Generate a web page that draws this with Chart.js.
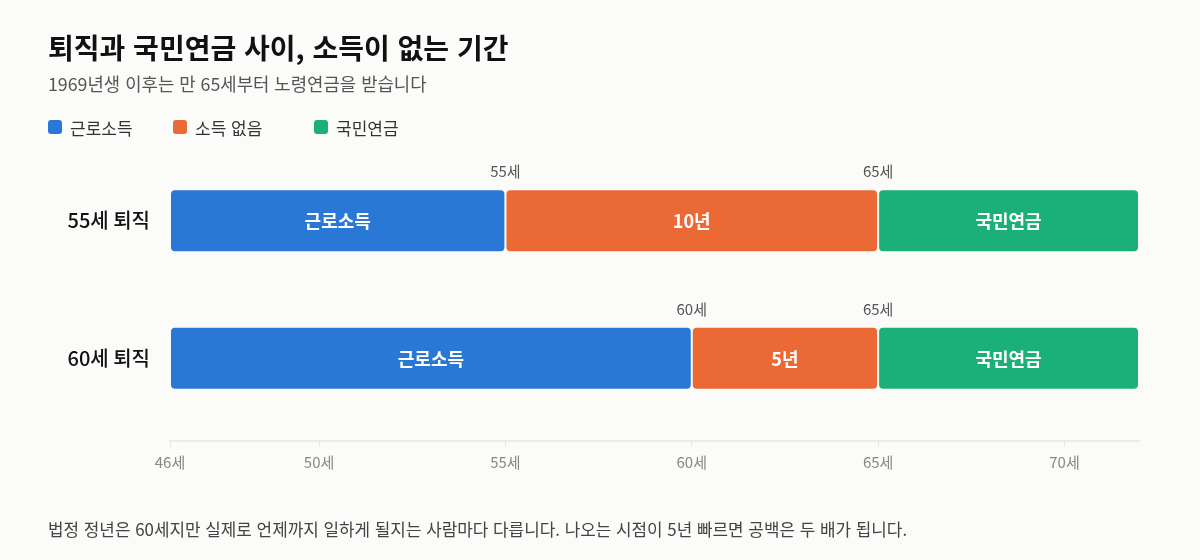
<!DOCTYPE html>
<html lang="ko">
<head>
<meta charset="utf-8">
<script src="https://cdn.jsdelivr.net/npm/chart.js@4.4.1/dist/chart.umd.min.js"></script>
<style>
  html, body { margin:0; padding:0; background:#fbfbf9; }
  body { width:1200px; height:560px; position:relative; overflow:hidden; font-family:"Noto Sans CJK KR","Noto Sans",sans-serif; }
  #title { position:absolute; left:48px; top:29px; font-size:28px; font-weight:700; color:#111; line-height:36px; white-space:nowrap; }
  #subtitle { position:absolute; left:48px; top:71px; font-size:17.8px; color:#555; line-height:24px; white-space:nowrap; }
  #legend { position:absolute; left:48px; top:115px; height:24px; }
  .li { position:absolute; top:0; display:flex; align-items:center; height:24px; font-size:17px; color:#333; white-space:nowrap; }
  .sw { width:14px; height:14px; border-radius:3px; margin-right:8px; }
  #note { position:absolute; left:48px; top:517px; font-size:16.9px; color:#444; line-height:24px; white-space:nowrap; }
  #wrap { position:absolute; left:0; top:0; width:1200px; height:560px; }
</style>
</head>
<body>
<div id="wrap"><canvas id="c"></canvas></div>
<div id="title">퇴직과 국민연금 사이, 소득이 없는 기간</div>
<div id="subtitle">1969년생 이후는 만 65세부터 노령연금을 받습니다</div>
<div id="legend"></div>
<div id="note">법정 정년은 60세지만 실제로 언제까지 일하게 될지는 사람마다 다릅니다. 나오는 시점이 5년 빠르면 공백은 두 배가 됩니다.</div>
<script>
// ---- data ----
const rows = ['55세 퇴직', '60세 퇴직'];
const seriesNames = ['근로소득', '소득 없음', '국민연금'];
const workSpan = [[46, 55], [46, 60]];
const gapSpan = [[55, 65], [60, 65]];
const pensionSpan = [[65, 72], [65, 72]];
const workLabels = ['근로소득', '근로소득'];
const gapLabels = ['10년', '5년'];
const pensionLabels = ['국민연금', '국민연금'];
const xTicks = [46, 50, 55, 60, 65, 70];
const axisMin = 46, axisMax = 72;
const colors = ['#2a78d6', '#eb6935', '#1bb07a'];
const BG = '#fbfbf9';
const FONT = '"Noto Sans CJK KR","Noto Sans",sans-serif';

// legend (HTML)
const legendLeft = [0, 125, 266];
const lg = document.getElementById('legend');
seriesNames.forEach((n, i) => {
  const d = document.createElement('div');
  d.className = 'li';
  d.style.left = legendLeft[i] + 'px';
  d.innerHTML = '<span class="sw" style="background:' + colors[i] + '"></span>' + n;
  lg.appendChild(d);
});

function toPoints(spans) {
  return spans.map((s, i) => ({ x: s, y: i }));
}

const inBarLabels = [workLabels, gapLabels, pensionLabels];

const labelPlugin = {
  id: 'labels',
  afterDatasetsDraw(chart) {
    const ctx = chart.ctx;
    const xs = chart.scales.x;
    ctx.save();
    ctx.textAlign = 'center';
    ctx.textBaseline = 'middle';
    ctx.font = '700 18px ' + FONT;
    ctx.fillStyle = '#ffffff';
    chart.data.datasets.forEach((ds, di) => {
      const meta = chart.getDatasetMeta(di);
      meta.data.forEach((bar, i) => {
        const s = ds.data[i].x;
        const cx = (xs.getPixelForValue(s[0]) + xs.getPixelForValue(s[1])) / 2;
        ctx.fillText(inBarLabels[di][i], cx, bar.y + 1);
      });
    });
    ctx.font = '400 15px ' + FONT;
    ctx.fillStyle = '#555';
    const gapMeta = chart.getDatasetMeta(1);
    gapMeta.data.forEach((bar, i) => {
      const top = bar.y - bar.height / 2;
      [gapSpan[i][0], gapSpan[i][1]].forEach(v => {
        ctx.fillText(v + '세', xs.getPixelForValue(v), top - 18);
      });
    });
    ctx.restore();
  }
};

const datasets = [workSpan, gapSpan, pensionSpan].map((sp, i) => ({
  label: seriesNames[i],
  data: toPoints(sp),
  backgroundColor: colors[i],
  borderColor: BG,
  borderWidth: 1,
  borderSkipped: false,
  borderRadius: 5,
  barThickness: 63,
  grouped: false,
  inflateAmount: 0,
  clip: false
}));

new Chart(document.getElementById('c'), {
  type: 'bar',
  data: { datasets },
  plugins: [labelPlugin],
  options: {
    indexAxis: 'y',
    responsive: true,
    maintainAspectRatio: false,
    animation: false,
    layout: { padding: { left: 0, right: 61, top: 138, bottom: 0 } },
    plugins: { legend: { display: false }, tooltip: { enabled: false } },
    scales: {
      x: {
        type: 'linear',
        min: axisMin,
        max: axisMax,
        afterBuildTicks(scale) { scale.ticks = xTicks.map(v => ({ value: v })); },
        afterFit(scale) { scale.height = 119; },
        grid: { display: true, drawOnChartArea: false, drawTicks: true, tickLength: 6, color: '#e6e6e4', lineWidth: 1 },
        border: { display: true, color: '#ebebe9', width: 2 },
        ticks: {
          padding: 6,
          color: '#888',
          font: { family: FONT, size: 15 },
          callback: v => v + '세',
          maxRotation: 0,
          autoSkip: false
        }
      },
      y: {
        type: 'linear',
        offset: false,
        min: -0.6,
        max: 1.6,
        reverse: true,
        afterBuildTicks(scale) { scale.ticks = rows.map((r, i) => ({ value: i })); },
        afterFit(scale) { scale.width = 170; },
        grid: { display: false, drawTicks: false },
        border: { display: false },
        ticks: {
          padding: 20,
          color: '#111',
          font: { family: FONT, size: 20, weight: '500' },
          callback: v => rows[v]
        }
      }
    }
  }
});
</script>
</body>
</html>
